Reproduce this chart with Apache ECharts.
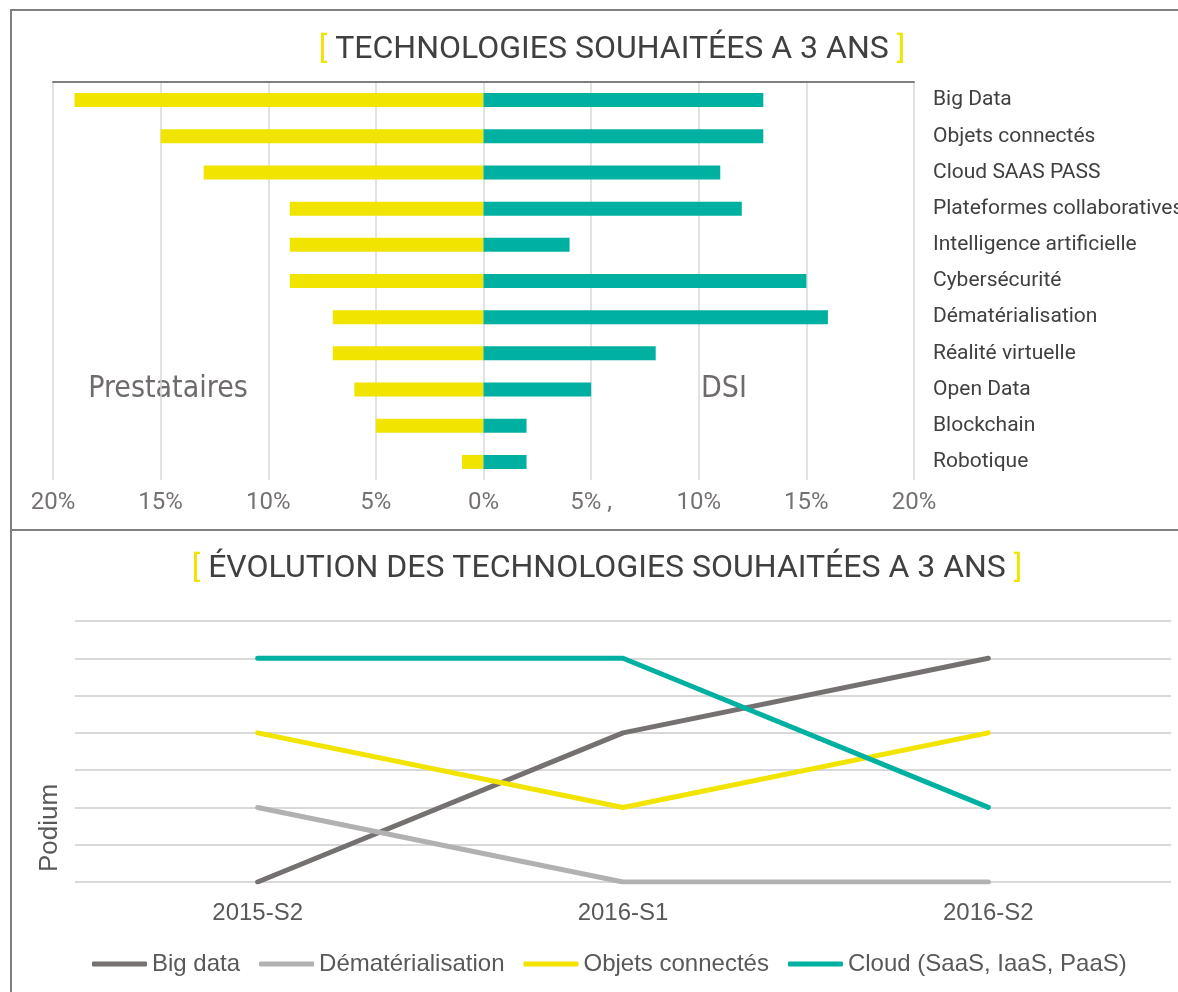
<!DOCTYPE html>
<html>
<head>
<meta charset="utf-8">
<title>Technologies souhaitées à 3 ans</title>
<script src="https://cdn.jsdelivr.net/npm/echarts@6/dist/echarts.min.js"></script>
<style>
  html, body { margin: 0; padding: 0; background: #fff; }
  #chart { width: 1178px; height: 992px; }
</style>
</head>
<body>
<div id="chart"></div>
<script>
// top chart: share of answers (%), per technology
const technologies = [
  "Big Data", "Objets connectés", "Cloud SAAS PASS", "Plateformes collaboratives",
  "Intelligence artificielle", "Cybersécurité", "Dématérialisation",
  "Réalité virtuelle", "Open Data", "Blockchain", "Robotique"
];
const prestataires = [19, 15, 13, 9, 9, 9, 7, 7, 6, 5, 1];
const dsi = [13, 13, 11, 12, 4, 15, 16, 8, 5, 2, 2];
const pctTicks = ["20%", "15%", "10%", "5%", "0%", "5% ,", "10%", "15%", "20%"];

// bottom chart: podium rank per semester
const periods = ["2015-S2", "2016-S1", "2016-S2"];
const bigData = [0, 4, 6];
const demat = [2, 0, 0];
const objets = [4, 2, 4];
const cloud = [6, 6, 2];

const YELLOW = "#f1e400";
const TEAL = "#00b1a1";
const TEXT = "#404040";

const chart = echarts.init(document.getElementById("chart"));

const option = {
  backgroundColor: "#fff",
  animation: false,
  grid: [
    { left: 53, right: 264, top: 82, bottom: 512, outerBoundsMode: "none" },
    { left: 75, right: 7, top: 621, bottom: 110, outerBoundsMode: "none" }
  ],
  xAxis: [
    {
      gridIndex: 0,
      type: "value",
      min: -20,
      max: 20,
      interval: 5,
      position: "bottom",
      axisLine: { show: false },
      axisTick: { show: false },
      splitLine: { lineStyle: { color: "#d9d9d9", width: 1.5 } },
      axisLabel: {
        margin: 11,
        fontFamily: "Roboto",
        fontSize: 24,
        color: "#757171",
        formatter: (v) => pctTicks[(v + 20) / 5]
      }
    },
    {
      // the dark line on top of the bar plot
      gridIndex: 0,
      type: "value",
      min: -20,
      max: 20,
      position: "top",
      axisLine: { show: true, lineStyle: { color: "#7f7f7f", width: 2 } },
      axisTick: { show: false },
      axisLabel: { show: false },
      splitLine: { show: false }
    },
    {
      gridIndex: 1,
      type: "category",
      data: periods,
      boundaryGap: true,
      axisLine: { show: false },
      axisTick: { show: false },
      axisLabel: {
        margin: 19,
        fontFamily: "Liberation Sans",
        fontSize: 24,
        color: "#595959"
      }
    }
  ],
  yAxis: [
    {
      gridIndex: 0,
      type: "category",
      data: technologies,
      inverse: true,
      position: "right",
      axisLine: { show: false },
      axisTick: { show: false },
      axisLabel: {
        margin: 19,
        align: "left",
        fontFamily: "Roboto",
        fontSize: 21,
        color: TEXT
      }
    },
    {
      gridIndex: 1,
      type: "value",
      min: 0,
      max: 7,
      interval: 1,
      axisLine: { show: false },
      axisTick: { show: false },
      axisLabel: { show: false },
      splitLine: { lineStyle: { color: "#d9d9d9", width: 2 } }
    }
  ],
  legend: {
    data: ["Big data", "Dématérialisation", "Objets connectés", "Cloud (SaaS, IaaS, PaaS)"],
    left: 87,
    top: 947,
    icon: "roundRect",
    itemWidth: 55,
    itemHeight: 5,
    itemGap: 19,
    textStyle: { fontFamily: "Liberation Sans", fontSize: 24, color: "#595959" }
  },
  series: [
    {
      name: "Prestataires",
      type: "bar",
      xAxisIndex: 0,
      yAxisIndex: 0,
      stack: "tech",
      barWidth: 14,
      itemStyle: { color: YELLOW },
      data: prestataires.map((v) => -v)
    },
    {
      name: "DSI",
      type: "bar",
      xAxisIndex: 0,
      yAxisIndex: 0,
      stack: "tech",
      barWidth: 14,
      itemStyle: { color: TEAL },
      data: dsi
    },
    lineSeries("Big data", bigData, "#767171"),
    lineSeries("Dématérialisation", demat, "#b1b1b1"),
    lineSeries("Objets connectés", objets, YELLOW),
    lineSeries("Cloud (SaaS, IaaS, PaaS)", cloud, TEAL)
  ],
  graphic: [
    {
      type: "rect",
      shape: { x: 11, y: 10, width: 1300, height: 1100 },
      style: { fill: "none", stroke: "#7f7f7f", lineWidth: 2 }
    },
    {
      type: "line",
      shape: { x1: 11, y1: 530, x2: 1178, y2: 530 },
      style: { stroke: "#7f7f7f", lineWidth: 2 }
    },
    titleText("TECHNOLOGIES SOUHAITÉES A 3 ANS", 612, 50),
    titleText("ÉVOLUTION DES TECHNOLOGIES SOUHAITÉES A 3 ANS", 607, 569),
    sideText("Prestataires", 168, 389),
    sideText("DSI", 724, 389),
    {
      type: "text",
      x: 50,
      y: 828,
      rotation: Math.PI / 2,
      style: {
        text: "Podium",
        fill: "#595959",
        fontFamily: "Liberation Sans",
        fontSize: 26,
        align: "center",
        verticalAlign: "middle"
      }
    }
  ]
};

function lineSeries(name, data, color) {
  return {
    name: name,
    type: "line",
    xAxisIndex: 2,
    yAxisIndex: 1,
    symbol: "none",
    lineStyle: { color: color, width: 5, cap: "round", join: "round" },
    itemStyle: { color: color },
    data: data
  };
}

function titleText(label, x, y) {
  return {
    type: "text",
    x: x,
    y: y,
    style: {
      text: "{b|[} " + label + " {b|]}",
      fill: TEXT,
      fontFamily: "Roboto",
      fontSize: 32,
      align: "center",
      verticalAlign: "middle",
      rich: {
        b: { fill: YELLOW, fontFamily: "Roboto", fontSize: 32 }
      }
    }
  };
}

function sideText(label, x, y) {
  return {
    type: "text",
    x: x,
    y: y,
    style: {
      text: label,
      fill: "#6f6b6b",
      fontFamily: "'DejaVu Sans Condensed', 'Liberation Sans Narrow', sans-serif",
      fontSize: 30,
      align: "center",
      verticalAlign: "middle"
    }
  };
}

chart.setOption(option);
window.addEventListener("resize", () => chart.resize());
</script>
</body>
</html>
